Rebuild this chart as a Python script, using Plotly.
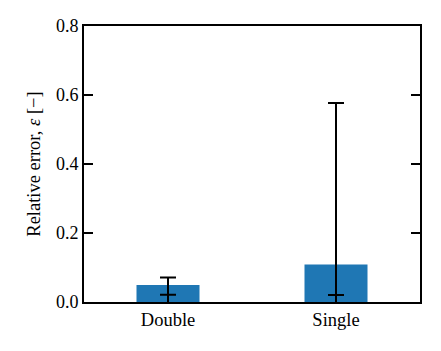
import plotly.graph_objects as go

categories = ["Double", "Single"]
values = [0.049, 0.109]
upper = [0.071, 0.577]
lower = [0.021, 0.020]
y_ticks = [0.0, 0.2, 0.4, 0.6, 0.8]

err_plus = [u - v for u, v in zip(upper, values)]
err_minus = [v - l for v, l in zip(values, lower)]

fig = go.Figure(go.Bar(
    x=categories, y=values, width=0.375,
    marker=dict(color="#1f77b4", line=dict(width=0)),
    error_y=dict(type="data", symmetric=False, array=err_plus, arrayminus=err_minus,
                 color="black", thickness=2, width=8),
))

font = dict(family="Liberation Serif, serif", color="black")
fig.update_layout(
    width=441, height=351,
    margin=dict(l=84, r=21, t=26, b=49),
    paper_bgcolor="white", plot_bgcolor="white",
    font=dict(size=18, **font),
    showlegend=False,
    xaxis=dict(range=[-0.5, 1.5], showline=True, linecolor="black", linewidth=2,
               mirror=True, ticks="inside", ticklen=8, tickwidth=1.5, tickcolor="black",
               showgrid=False, tickfont=dict(size=18.5, **font)),
    yaxis=dict(range=[0, 0.8], tickvals=y_ticks, tickformat=".1f", showline=True,
               linecolor="black", linewidth=2, mirror="ticks", ticks="inside",
               ticklen=9, tickwidth=1.5, tickcolor="black", showgrid=False, zeroline=False,
               tickfont=dict(size=18, **font),
               title=dict(text="Relative error, <i>ε</i> [−]", font=dict(size=18.5, **font), standoff=10)),
)
fig.write_html("out.html", config={"displayModeBar": False},
               post_script="document.body.style.margin='0';")
